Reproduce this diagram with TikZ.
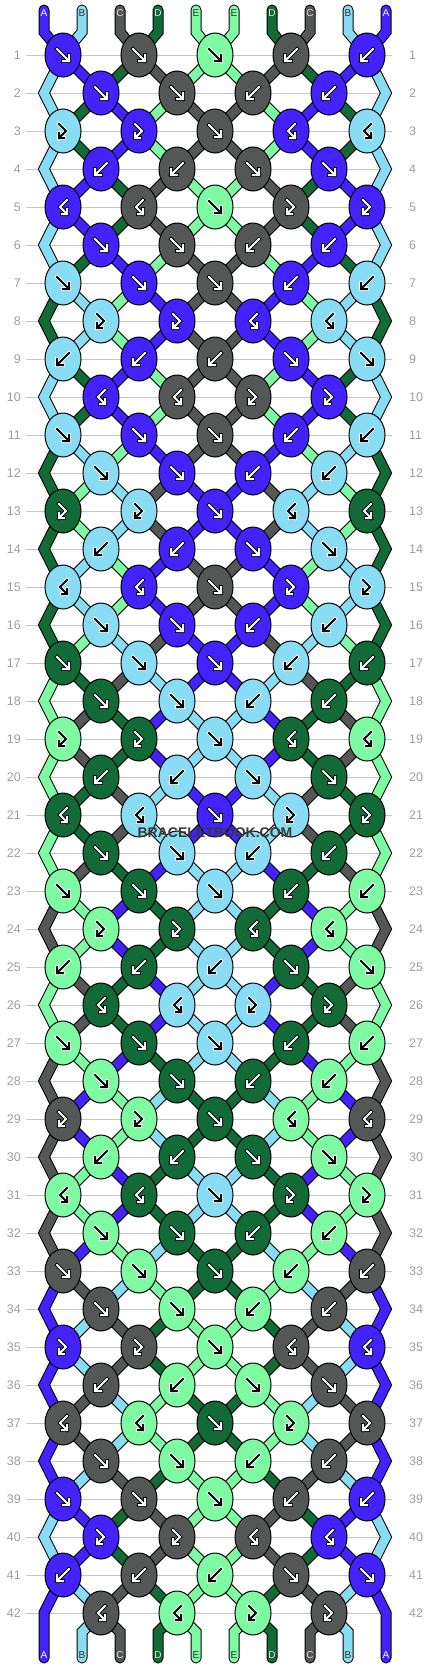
\documentclass[tikz,border=0pt]{standalone}
\usepackage{fontspec}
\setmainfont{Liberation Sans}
\usetikzlibrary{shapes.geometric}

\definecolor{cA}{HTML}{4422FF}
\definecolor{cB}{HTML}{88DDF5}
\definecolor{cC}{HTML}{555757}
\definecolor{cD}{HTML}{126B36}
\definecolor{cE}{HTML}{7DFAA2}
% arrow colour and its rim, per knot colour
\colorlet{inkA}{white}\colorlet{rimA}{black}
\colorlet{inkB}{black}\colorlet{rimB}{white}
\colorlet{inkC}{white}\colorlet{rimC}{black}
\colorlet{inkD}{white}\colorlet{rimD}{black}
\colorlet{inkE}{black}\colorlet{rimE}{white}
% letter colour on the string ends
\colorlet{tagA}{white}
\colorlet{tagB}{black!80}
\colorlet{tagC}{white!88!black}
\colorlet{tagD}{white!88!black}
\colorlet{tagE}{black!80}

\begin{document}
\begin{tikzpicture}
    [x=1pt, y=-1pt,
     knot/.style={ellipse, draw=black, line width=1pt,
       minimum width=36pt, minimum height=44pt, inner sep=0pt},
     strand/.style={line width=1pt, draw=black, double distance=9pt},
     rowline/.style={draw=black!22, line width=1pt},
     rownum/.style={text=black!38, inner sep=0pt,
       font=\fontsize{12.5}{12.5}\selectfont},
     tag/.style={inner sep=0pt, font=\fontsize{10}{10}\selectfont},
     glyphrim/.style={draw=rim, line width=3.6pt, line cap=rect, line join=miter},
     glyphink/.style={draw=ink, line width=2pt, line cap=rect, line join=miter},
     gf/.pic={\draw[glyphrim] (-6,-6) -- (6,6) (0,6) -- (6,6) -- (6,0);
              \draw[glyphink] (-6,-6) -- (6,6) (0,6) -- (6,6) -- (6,0);},
     gb/.pic={\draw[glyphrim] (6,-6) -- (-6,6) (0,6) -- (-6,6) -- (-6,0);
              \draw[glyphink] (6,-6) -- (-6,6) (0,6) -- (-6,6) -- (-6,0);},
     gfb/.pic={\draw[glyphrim] (-4,-7) -- (3,0) -- (-4,7) (1,7) -- (-4,7) -- (-4,2);
               \draw[glyphink] (-4,-7) -- (3,0) -- (-4,7) (1,7) -- (-4,7) -- (-4,2);},
     gbf/.pic={\draw[glyphrim] (4,-7) -- (-3,0) -- (4,7) (-1,7) -- (4,7) -- (4,2);
               \draw[glyphink] (4,-7) -- (-3,0) -- (4,7) (-1,7) -- (4,7) -- (4,2);}]
    \useasboundingbox (0,0) rectangle (430,1668);
    \def \rows {42}
    \def \gap {38} % row and string spacing

    % row lines and numbers
    \foreach \r in {1,...,\rows}
    {
      \pgfmathsetmacro\y{55+\gap*(\r-1)}
      \node[rownum, anchor=east] (nl-\r) at (21,\y) {\r};
      \node[rownum, anchor=west] (nr-\r) at (409,\y) {\r};
      \draw[rowline] ([xshift=5pt]nl-\r.east) -- ([xshift=-17pt]nr-\r.west);
    }

    % knot centres, odd rows have 5 knots, even rows 4
    \foreach \r in {1,...,\rows}
    {
      \pgfmathtruncatemacro\odd{mod(\r,2)}
      \pgfmathsetmacro\y{55+\gap*(\r-1)}
      \ifnum\odd=1
        \foreach \ci in {1,...,5}
          \coordinate (p-\r-\ci) at ({63+2*\gap*(\ci-1)},\y);
      \else
        \foreach \ci in {1,...,4}
          \coordinate (p-\r-\ci) at ({101+2*\gap*(\ci-1)},\y);
        \coordinate (eL-\r) at (44,\y);
        \coordinate (eR-\r) at (386,\y);
      \fi
    }

    % loose ends of the strings
    \foreach \p/\s in {0/A,1/B,2/C,3/D,4/E,5/E,6/D,7/C,8/B,9/A}
    {
      \coordinate (t-\p) at ({44+\gap*\p},10);
      \coordinate (tb-\p) at ({44+\gap*\p},32);
      \coordinate (bb-\p) at ({44+\gap*\p},1632);
      \coordinate (b-\p) at ({44+\gap*\p},1658);
      \pgfmathtruncatemacro\ci{int(\p/2)+1}
      \draw[strand, double=c\s, line cap=round] (t-\p) -- (tb-\p) -- (p-1-\ci);
    }
    \foreach \p/\s in {1/B,2/C,3/D,4/E,5/E,6/D,7/C,8/B}
    {
      \pgfmathtruncatemacro\ci{int((\p-1)/2)+1}
      \draw[strand, double=c\s, line cap=round] (p-42-\ci) -- (bb-\p) -- (b-\p);
    }
    \draw[strand, double=cA, line cap=round] (p-41-1) -- (eL-42) -- (b-0);
    \draw[strand, double=cA, line cap=round] (p-41-5) -- (eR-42) -- (b-9);

    % side strings on even rows
    \foreach \e/\s in {2/B,4/B,6/B,8/D,10/B,12/D,14/D,16/D,18/E,20/E,
                       22/E,24/C,26/E,28/C,30/C,32/C,34/A,36/A,38/A,40/B}
    {
      \pgfmathtruncatemacro\u{\e-1}
      \pgfmathtruncatemacro\w{\e+1}
      \draw[strand, double=c\s] (p-\u-1) -- (eL-\e) -- (p-\w-1);
      \draw[strand, double=c\s] (p-\u-5) -- (eR-\e) -- (p-\w-5);
    }

    % strings between rows (left half, right half is mirrored)
    \foreach \r/\st in {1/{B,A,D,C,E},2/{B,D,A,E,C},3/{B,D,A,E,C},4/{B,A,D,C,E},
        5/{B,A,D,C,E},6/{B,D,A,E,C},7/{D,B,E,A,C},8/{D,B,E,A,C},9/{B,D,A,E,C},
        10/{B,D,A,E,C},11/{D,B,E,A,C},12/{D,E,B,C,A},13/{D,E,B,C,A},
        14/{D,B,E,A,C},15/{D,B,E,A,C},16/{D,E,B,C,A},17/{E,D,C,B,A},
        18/{E,C,D,A,B},19/{E,C,D,A,B},20/{E,D,C,B,A},21/{E,D,C,B,A},
        22/{E,C,D,A,B},23/{C,E,A,D,B},24/{C,E,A,D,B},25/{E,C,D,A,B},
        26/{E,C,D,A,B},27/{C,E,A,D,B},28/{C,A,E,B,D},29/{C,A,E,B,D},
        30/{C,E,A,D,B},31/{C,E,A,D,B},32/{C,A,E,B,D},33/{A,C,B,E,D},
        34/{A,B,C,D,E},35/{A,B,C,D,E},36/{A,C,B,E,D},37/{A,C,B,E,D},
        38/{A,B,C,D,E},39/{B,A,D,C,E},40/{B,A,D,C,E},41/{A,B,C,D,E}}
    {
      \pgfmathtruncatemacro\odd{mod(\r,2)}
      \pgfmathtruncatemacro\nx{\r+1}
      \foreach \s [count=\i from 0] in \st
      {
        \ifnum\i>0
          \pgfmathtruncatemacro\q{9-\i}
          \foreach \p in {\i,\q}
          {
            \ifnum\odd=1
              \pgfmathtruncatemacro\src{int(\p/2)+1}
              \pgfmathtruncatemacro\dst{int((\p-1)/2)+1}
            \else
              \pgfmathtruncatemacro\src{int((\p-1)/2)+1}
              \pgfmathtruncatemacro\dst{int(\p/2)+1}
            \fi
            \draw[strand, double=c\s] (p-\r-\src) -- (p-\nx-\dst);
          }
        \fi
      }
    }

    % knots: colour / knot type
    \foreach \r/\kl in {1/{A/f,C/f,E/f,C/b,A/b},2/{A/f,C/f,C/b,A/b},
        3/{B/fb,A/fb,C/f,A/bf,B/bf},4/{A/b,C/b,C/f,A/f},
        5/{A/bf,C/bf,E/f,C/fb,A/fb},6/{A/f,C/f,C/b,A/b},
        7/{B/f,A/f,C/f,A/b,B/b},8/{B/fb,A/fb,A/bf,B/bf},
        9/{B/b,A/b,C/b,A/f,B/f},10/{A/bf,C/bf,C/fb,A/fb},
        11/{B/f,A/f,C/f,A/b,B/b},12/{B/f,A/f,A/b,B/b},
        13/{D/fb,B/fb,A/f,B/bf,D/bf},14/{B/b,A/b,A/f,B/f},
        15/{B/bf,A/bf,C/f,A/fb,B/fb},16/{B/f,A/f,A/b,B/b},
        17/{D/f,B/f,A/f,B/b,D/b},18/{D/f,B/f,B/b,D/b},
        19/{E/fb,D/fb,B/f,D/bf,E/bf},20/{D/b,B/b,B/f,D/f},
        21/{D/bf,B/bf,A/f,B/fb,D/fb},22/{D/f,B/f,B/b,D/b},
        23/{E/f,D/f,B/f,D/b,E/b},24/{E/fb,D/fb,D/bf,E/bf},
        25/{E/b,D/b,B/b,D/f,E/f},26/{D/bf,B/bf,B/fb,D/fb},
        27/{E/f,D/f,B/f,D/b,E/b},28/{E/f,D/f,D/b,E/b},
        29/{C/fb,E/fb,D/f,E/bf,C/bf},30/{E/b,D/b,D/f,E/f},
        31/{E/bf,D/bf,B/f,D/fb,E/fb},32/{E/f,D/f,D/b,E/b},
        33/{C/f,E/f,D/f,E/b,C/b},34/{C/f,E/f,E/b,C/b},
        35/{A/fb,C/fb,E/f,C/bf,A/bf},36/{C/b,E/b,E/f,C/f},
        37/{C/bf,E/bf,D/f,E/fb,C/fb},38/{C/f,E/f,E/b,C/b},
        39/{A/f,C/f,E/f,C/b,A/b},40/{A/fb,C/fb,C/bf,A/bf},
        41/{A/b,C/b,E/b,C/f,A/f},42/{C/bf,E/bf,E/fb,C/fb}}
    {
      \foreach \kc/\ty [count=\ci] in \kl
      {
        \node[knot, fill=c\kc] (k-\r-\ci) at (p-\r-\ci) {};
        \colorlet{ink}{ink\kc}
        \colorlet{rim}{rim\kc}
        \pic at (k-\r-\ci.center) {g\ty};
      }
    }

    % string letters
    \foreach \p/\s in {0/A,1/B,2/C,3/D,4/E,5/E,6/D,7/C,8/B,9/A}
    {
      \node[tag, text=tag\s] (lt-\p) at ({44+\gap*\p},13) {\s};
      \node[tag, text=tag\s] (lb-\p) at ({44+\gap*\p},1655) {\s};
    }

    \node[font=\bfseries\fontsize{14}{14}\selectfont, text=black!78,
      inner sep=0pt] (brand) at (215,833) {BRACELETBOOK.COM};
\end{tikzpicture}
\end{document}
